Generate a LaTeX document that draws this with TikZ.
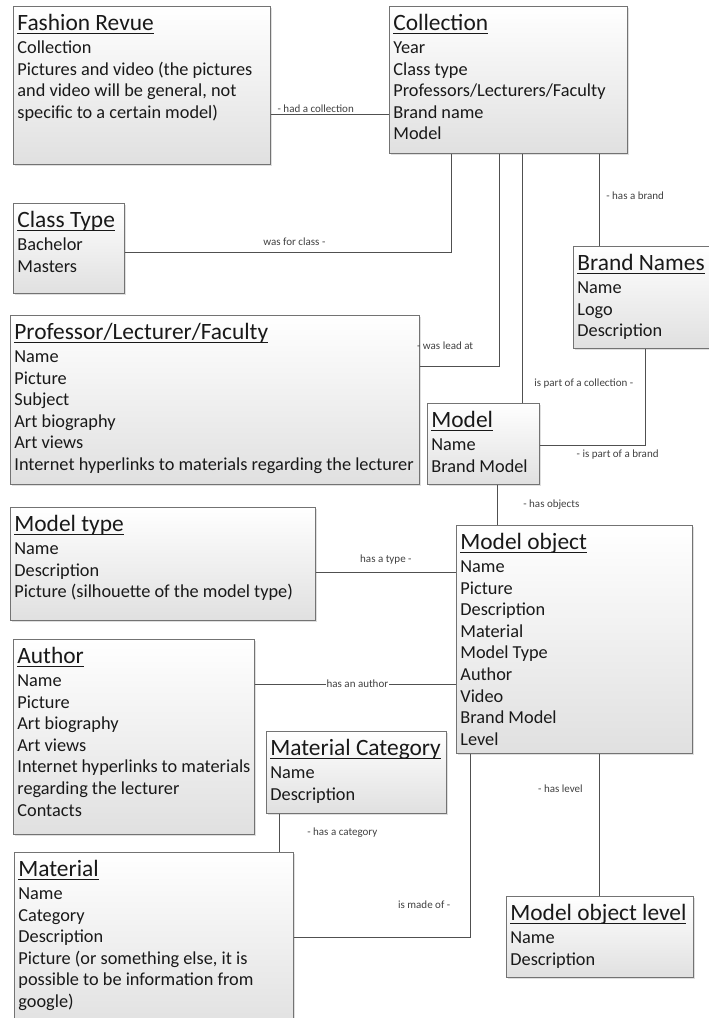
\documentclass[tikz,border=0pt]{standalone}
\usepackage{fontspec}
\setmainfont{Carlito}
\usetikzlibrary{shadows}
\definecolor{box_gray}{RGB}{115,115,115}
\definecolor{box_fill}{RGB}{224,224,224}
\definecolor{line_gray}{RGB}{80,80,80}
\newcommand{\titleline}[1]{\setbox0\hbox{#1}\rlap{\rule[-3.5pt]{\wd0}{1.4pt}}\box0}
\newcommand{\fields}[4]{\begin{minipage}[t][#2pt][t]{#1pt}\rule{0pt}{24pt}{\fontsize{23.4}{26}\selectfont\titleline{#3}}\\[1.5pt]#4\end{minipage}}

\begin{document}
\begin{tikzpicture}[x=1pt,y=-1pt,semithick]
    \tikzstyle{entity}=[draw=box_gray, line width=0.8pt, top color=white, bottom color=box_fill, anchor=north west, inner xsep=4pt, inner ysep=0pt, font=\fontsize{18.3}{21.6}\selectfont, text=black!90, drop shadow={shadow xshift=2pt, shadow yshift=-2pt, opacity=0.25}]
    \tikzstyle{link}=[draw=line_gray, line width=0.7pt]
    \tikzstyle{lbl}=[font=\fontsize{11}{13}\selectfont, text=black!75, inner sep=1pt]
    \useasboundingbox (0,0) rectangle (709,1018);

    \node[entity] (revue) at (13,6) {\fields{249}{158}{Fashion Revue}{Collection\\Pictures and video (the pictures\\and video will be general, not\\specific to a certain model)}};
    \node[entity] (collection) at (389,6) {\fields{230}{147}{Collection}{Year\\Class type\\Professors/Lecturers/Faculty\\Brand name\\Model}};
    \node[entity] (classtype) at (13,203) {\fields{103}{90}{Class Type}{Bachelor\\Masters}};
    \node[entity] (brand) at (573,246) {\fields{137}{102}{Brand Names}{Name\\Logo\\Description}};
    \node[entity] (professor) at (10,315) {\fields{401}{169}{Professor/Lecturer/Faculty}{Name\\Picture\\Subject\\Art biography\\Art views\\Internet hyperlinks to materials regarding the lecturer}};
    \node[entity] (model) at (427,403) {\fields{104}{81}{Model}{Name\\Brand Model}};
    \node[entity] (modeltype) at (10,507) {\fields{297}{113}{Model type}{Name\\Description\\Picture (silhouette of the model type)}};
    \node[entity] (modelobj) at (456,525) {\fields{228}{228}{Model object}{Name\\Picture\\Description\\Material\\Model Type\\Author\\Video\\Brand Model\\Level}};
    \node[entity] (author) at (13,639) {\fields{233}{195}{Author}{Name\\Picture\\Art biography\\Art views\\Internet hyperlinks to materials\\regarding the lecturer\\Contacts}};
    \node[entity] (matcat) at (266,731) {\fields{172}{82}{Material Category}{Name\\Description}};
    \node[entity] (material) at (14,852) {\fields{271}{180}{Material}{Name\\Category\\Description\\Picture (or something else, it is\\possible to be information from\\google)}};
    \node[entity] (mol) at (506,896) {\fields{179}{81}{Model object level}{Name\\Description}};

    % relations
    \draw[link] (revue.east |- 0,114) -- node[lbl, above, pos=0.38] {- had a collection} (collection.west |- 0,114);
    \draw[link] (classtype.east |- 0,252) -| node[lbl, above=5pt, pos=0.26] {was for class -} (collection.south -| 451,0);
    \draw[link] (professor.east |- 0,366) -| node[lbl, above=15pt, pos=0.16] {- was lead at} (collection.south -| 499,0);
    \draw[link] (collection.south -| 522,0) -- node[lbl, right=11pt, pos=0.92] {is part of a collection -} (model.north -| 522,0);
    \draw[link] (collection.south -| 599,0) -- node[lbl, right=6pt, pos=0.45] {- has a brand} (brand.north -| 599,0);
    \draw[link] (brand.south -| 645,0) |- node[lbl, below=4pt, pos=0.63] {- is part of a brand} (model.east |- 0,445);
    \draw[link] (model.south -| 497,0) -- node[lbl, right=25pt] {- has objects} (modelobj.north -| 497,0);
    \draw[link] (modeltype.east |- 0,572) -- node[lbl, above=6pt] {has a type -} (modelobj.west |- 0,572);
    \draw[link] (author.east |- 0,684) -- node[lbl, fill=white, pos=0.51] {has an author} (modelobj.west |- 0,684);
    \draw[link] (matcat.south -| 279,0) -- node[lbl, right=27pt] {- has a category} (material.north -| 279,0);
    \draw[link] (modelobj.south -| 470,0) |- node[lbl, above=27pt, pos=0.63] {is made of -} (material.east |- 0,937);
    \draw[link] (modelobj.south -| 599,0) -- node[lbl, left=15pt, pos=0.245] {- has level} (mol.north -| 599,0);
\end{tikzpicture}
\end{document}
